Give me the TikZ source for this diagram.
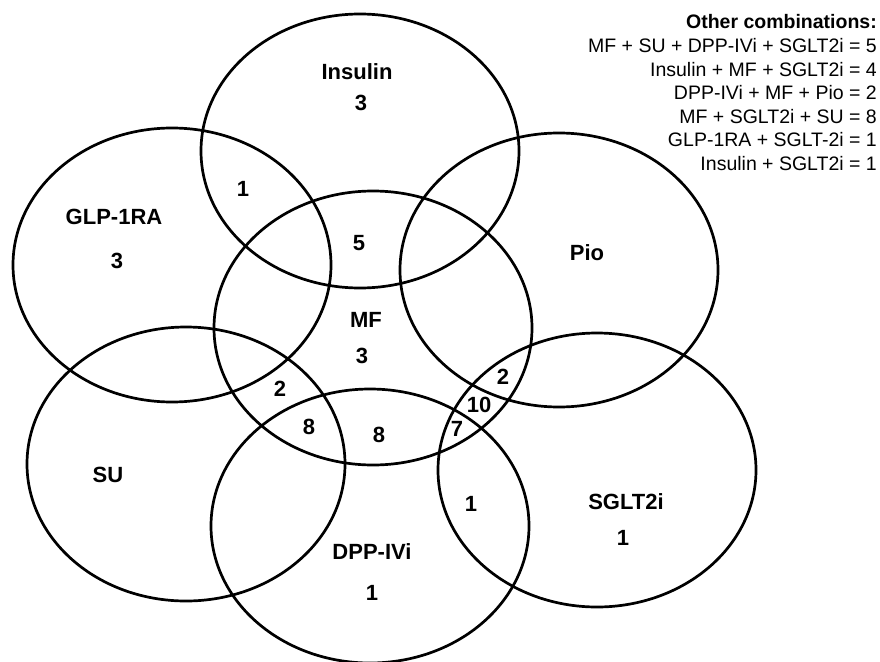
\documentclass[tikz,border=0pt]{standalone}
\usepackage{fontspec}
\setmainfont{Liberation Sans}
\usepackage{tikz}

\tikzset{
  setline/.style={line width=2.7pt},
  setlabel/.style={font=\fontsize{22}{26}\selectfont\bfseries, inner sep=0pt},
  combo/.style={font=\fontsize{19.5}{23}\selectfont, anchor=base east, inner sep=0pt}
}

\begin{document}
\begin{tikzpicture}[x=1pt,y=-1pt]
\useasboundingbox (0,0) rectangle (880,661);
% the seven sets
\draw [setline] (360,151) ellipse [x radius=159pt, y radius=137pt]; % Insulin
\draw [setline] (172,265) ellipse [x radius=159pt, y radius=137pt]; % GLP-1RA
\draw [setline] (373,328) ellipse [x radius=159pt, y radius=137pt]; % MF
\draw [setline] (559,270) ellipse [x radius=159pt, y radius=137pt]; % Pio
\draw [setline] (186,464) ellipse [x radius=159pt, y radius=137pt]; % SU
\draw [setline] (370,526) ellipse [x radius=159pt, y radius=137pt]; % DPP-IVi
\draw [setline] (597,470) ellipse [x radius=159pt, y radius=137pt]; % SGLT2i
% set names and counts
\node [setlabel] (insname) at (357,72) {Insulin};
\node [setlabel] (insnum) at (361,103) {3};
\node [setlabel] (glpname) at (114,217) {GLP-1RA};
\node [setlabel] (glpnum) at (117,261) {3};
\node [setlabel] (mfname) at (366,320) {MF};
\node [setlabel] (mfnum) at (362,356) {3};
\node [setlabel] (pioname) at (587,253) {Pio};
\node [setlabel] (suname) at (108,475) {SU};
\node [setlabel] (dppname) at (372,552) {DPP-IVi};
\node [setlabel] (dppnum) at (372,593) {1};
\node [setlabel] (sgltname) at (626,502) {SGLT2i};
\node [setlabel] (sgltnum) at (623,538) {1};
% overlaps
\node [setlabel] (insglp) at (243,189) {1};
\node [setlabel] (insmf) at (359,243) {5};
\node [setlabel] (glpmfsu) at (280,389) {2};
\node [setlabel] (mfsudpp) at (309,427) {8};
\node [setlabel] (mfdpp) at (379,435) {8};
\node [setlabel] (mfpiosglt) at (503,377) {2};
\node [setlabel] (mfsglt) at (479,405) {10};
\node [setlabel] (mfdppsglt) at (457,429) {7};
\node [setlabel] (dppsglt) at (471,504) {1};
% other combinations
\node [combo, font=\fontsize{19.5}{23}\selectfont\bfseries] (othertitle) at (877,29) {Other combinations:};
\foreach \txt [count=\i] in {MF + SU + DPP-IVi + SGLT2i = 5,
    Insulin + MF + SGLT2i = 4,
    DPP-IVi + MF + Pio = 2,
    MF + SGLT2i + SU = 8,
    GLP-1RA + SGLT-2i = 1,
    Insulin + SGLT2i = 1}
  \node [combo] (other\i) at (877,29+23.5*\i) {\txt};
\end{tikzpicture}
\end{document}
